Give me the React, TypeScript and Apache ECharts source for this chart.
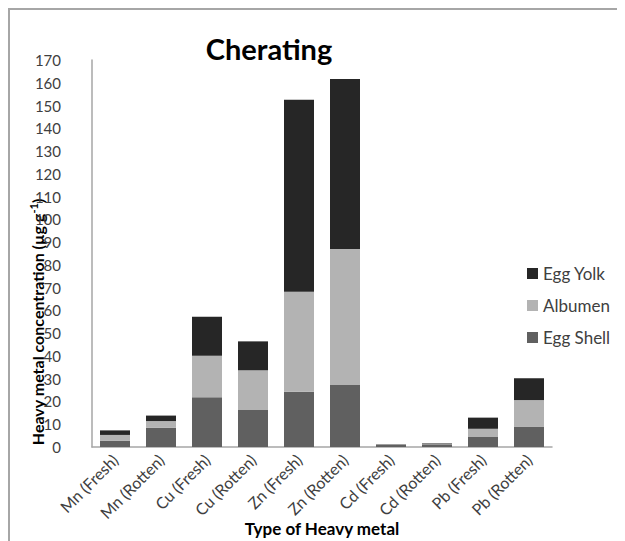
import React, { useEffect, useRef } from "react";
import * as echarts from "echarts";

const categories = [
  "Mn (Fresh)",
  "Mn (Rotten)",
  "Cu (Fresh)",
  "Cu (Rotten)",
  "Zn (Fresh)",
  "Zn (Rotten)",
  "Cd (Fresh)",
  "Cd (Rotten)",
  "Pb (Fresh)",
  "Pb (Rotten)",
];
const eggShell = [2.8, 8.5, 21.8, 16.3, 24.3, 27.2, 1.0, 1.2, 4.4, 8.8];
const albumen = [2.5, 2.9, 18.3, 17.4, 43.9, 59.8, 0.2, 0.3, 3.6, 11.8];
const eggYolk = [2.0, 2.4, 17.1, 12.7, 84.3, 74.7, 0.1, 0.2, 4.9, 9.6];
const legendItems = ["Egg Yolk", "Albumen", "Egg Shell"];

const FONT = "Lato, 'Open Sans', sans-serif";

export default function App() {
  const ref = useRef<HTMLDivElement>(null);
  useEffect(() => {
    if (!ref.current) return;
    const chart = echarts.init(ref.current, undefined, { renderer: "svg" });
    const barBase = { type: "bar" as const, stack: "total", barWidth: 30 };
    chart.setOption({
      animation: false,
      backgroundColor: "#ffffff",
      textStyle: { fontFamily: FONT },
      title: {
        text: "Cherating",
        left: 256,
        textAlign: "center",
        top: 21,
        textStyle: { fontFamily: FONT, fontWeight: "bold", fontSize: 29, color: "#000000" },
      },
      legend: {
        data: legendItems,
        orient: "vertical",
        left: 514,
        top: 252,
        itemWidth: 11,
        itemHeight: 11,
        itemGap: 15,
        icon: "rect",
        textStyle: { fontFamily: FONT, fontSize: 17, color: "#404040" },
      },
      grid: { left: 84, right: 73, top: 52, bottom: 94, containLabel: false, outerBoundsMode: "none" },
      xAxis: {
        type: "category",
        data: categories,
        name: "Type of Heavy metal",
        nameLocation: "middle",
        nameGap: 73,
        nameMoveOverlap: false,
        nameTextStyle: { fontFamily: FONT, fontWeight: "bold", fontSize: 17, color: "#000000" },
        axisLine: { show: true, lineStyle: { color: "#a6a6a6", width: 1.5 } },
        axisTick: { show: false },
        axisLabel: {
          rotate: 45,
          interval: 0,
          margin: 10,
          fontFamily: FONT,
          fontSize: 16,
          color: "#404040",
        },
      },
      yAxis: {
        type: "value",
        min: 0,
        max: 170,
        interval: 10,
        axisLine: { show: true, lineStyle: { color: "#a6a6a6", width: 1.5 } },
        axisTick: { show: false },
        splitLine: { show: false },
        axisLabel: { margin: 31, fontFamily: FONT, fontSize: 15, color: "#404040" },
      },
      graphic: [
        { type: "line", shape: { x1: 0, y1: 1, x2: 617, y2: 1 }, style: { stroke: "#a6a6a6", lineWidth: 2 } },
        { type: "line", shape: { x1: 1, y1: 0, x2: 1, y2: 533 }, style: { stroke: "#a6a6a6", lineWidth: 2 } },
        {
          type: "text",
          x: 29,
          y: 314,
          rotation: Math.PI / 2,
          style: {
            text: "{a|Heavy metal concentration (µg g}{s|-1}{a|)}",
            align: "center",
            verticalAlign: "middle",
            rich: {
              a: { fontFamily: FONT, fontWeight: "bold", fontSize: 16, fill: "#000000" },
              s: { fontFamily: FONT, fontWeight: "bold", fontSize: 11, fill: "#000000", verticalAlign: "top", padding: [0, 0, 8, 0] },
            },
          },
        },
      ],
      series: [
        { ...barBase, name: "Egg Shell", data: eggShell, itemStyle: { color: "#606060" } },
        { ...barBase, name: "Albumen", data: albumen, itemStyle: { color: "#b3b3b3" } },
        { ...barBase, name: "Egg Yolk", data: eggYolk, itemStyle: { color: "#262626" } },
      ],
    });
    return () => chart.dispose();
  }, []);
  return <div ref={ref} style={{ width: 617, height: 533 }} />;
}
